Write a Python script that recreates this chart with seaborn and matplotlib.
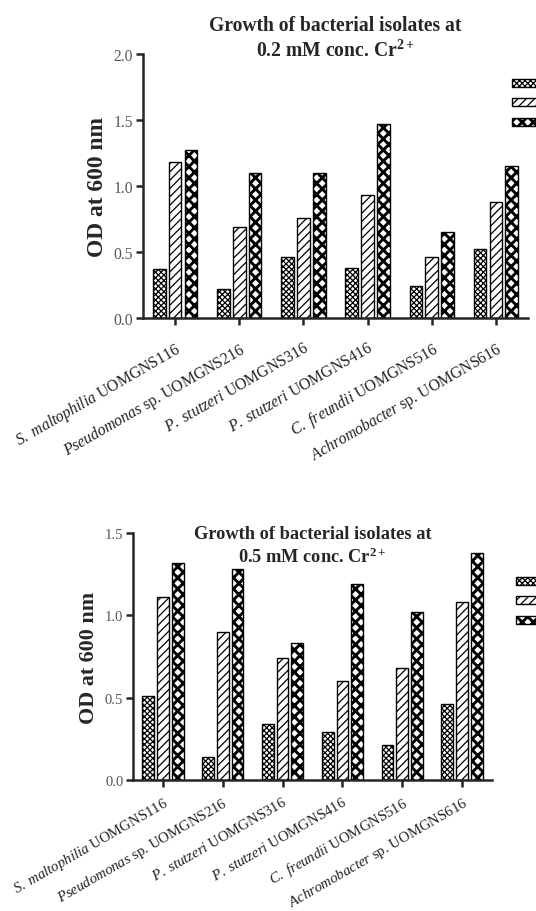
import pandas as pd
import matplotlib.pyplot as plt
import matplotlib.patches as mpatches
import seaborn as sns

# isolates (x categories)
isolates = [
    r"$\mathit{S.\ maltophilia}$ UOMGNS116",
    r"$\mathit{Pseudomonas}$ sp. UOMGNS216",
    r"$\mathit{P.\ stutzeri}$ UOMGNS316",
    r"$\mathit{P.\ stutzeri}$ UOMGNS416",
    r"$\mathit{C.\ freundii}$ UOMGNS516",
    r"$\mathit{Achromobacter}$ sp. UOMGNS616",
]
times = ["24 h", "48 h", "72 h"]

# OD at 600 nm, 0.2 mM Cr2+
od_02_24 = [0.37, 0.22, 0.46, 0.38, 0.24, 0.52]
od_02_48 = [1.18, 0.69, 0.76, 0.93, 0.46, 0.88]
od_02_72 = [1.27, 1.10, 1.10, 1.47, 0.65, 1.15]

# OD at 600 nm, 0.5 mM Cr2+
od_05_24 = [0.51, 0.14, 0.34, 0.29, 0.21, 0.46]
od_05_48 = [1.11, 0.90, 0.74, 0.60, 0.68, 1.08]
od_05_72 = [1.32, 1.28, 0.83, 1.19, 1.02, 1.38]

hatches = ["xxxxxx", "////", "xxx"]

sns.set_style("ticks")
plt.rcParams["font.family"] = "Liberation Serif"
plt.rcParams["mathtext.fontset"] = "custom"
plt.rcParams["mathtext.rm"] = "Liberation Serif"
plt.rcParams["mathtext.it"] = "Liberation Serif:italic"
plt.rcParams["mathtext.bf"] = "Liberation Serif:bold"
plt.rcParams["hatch.linewidth"] = 0.9


def make_df(a, b, c):
    rows = []
    for t, vals in zip(times, [a, b, c]):
        for iso, v in zip(isolates, vals):
            rows.append({"isolate": iso, "time": t, "od": v})
    return pd.DataFrame(rows)


def set_hatch(p, h):
    p.set_hatch(h)
    if h == "xxx" and hasattr(p, "set_hatch_linewidth"):
        p.set_hatch_linewidth(2.1)


def draw(ax, df, ymax, title, title_y, legend_xy, scale, xpad):
    sns.barplot(data=df, x="isolate", y="od", hue="time", palette=["white"] * 3,
                edgecolor="black", linewidth=1.0, width=0.74, gap=0.2,
                legend=False, ax=ax)
    for cont, h in zip(ax.containers, hatches):
        for p in cont:
            set_hatch(p, h)
    ax.set_ylim(0, ymax)
    ax.set_xlim(-0.5, 5.5)
    ax.set_yticks([i * 0.5 for i in range(int(ymax / 0.5) + 1)])
    ax.set_xlabel("")
    ax.set_ylabel("OD at 600 nm", fontsize=15.8 * scale, fontweight="bold", labelpad=4)
    ax.tick_params(axis="both", width=1.8, length=5, direction="out")
    ax.tick_params(axis="y", labelsize=10.5 * scale, labelcolor="#555555", pad=2)
    ax.tick_params(axis="x", pad=xpad)
    ax.set_xticks(range(len(isolates)))
    ax.set_xticklabels(isolates, rotation=30, ha="right", va="top",
                       rotation_mode="anchor", fontsize=10.6 * scale, color="#222222")
    for s in ["left", "bottom"]:
        ax.spines[s].set_linewidth(1.8)
    sns.despine(ax=ax)
    ax.text(0.5, title_y, title, transform=ax.transAxes, ha="center", va="bottom",
            fontsize=13.2 * scale, fontweight="bold", linespacing=1.3)
    handles = [mpatches.Patch(facecolor="white", edgecolor="black", label=" ")
               for h in hatches]
    leg = ax.figure.legend(handles=handles, loc="upper left", bbox_to_anchor=legend_xy,
                           frameon=False, fontsize=9, handlelength=3, handleheight=0.6,
                           labelspacing=0.6, borderaxespad=0, borderpad=0)
    for p, h in zip(leg.get_patches(), hatches):
        set_hatch(p, h)


fig = plt.figure(figsize=(5.36, 9.12), dpi=100)
ax1 = fig.add_axes([0.2668, 0.6502, 0.7183, 0.2895])
ax2 = fig.add_axes([0.2481, 0.1436, 0.6698, 0.2708])

draw(ax1, make_df(od_02_24, od_02_48, od_02_72), 2.0,
     "Growth of bacterial isolates at\n0.2 mM conc. Cr$^{\\mathbf{2+}}$", 0.975,
     (512 / 536, 1 - 79 / 912), 1.07, 10)
draw(ax2, make_df(od_05_24, od_05_48, od_05_72), 1.5,
     "Growth of bacterial isolates at\n0.5 mM conc. Cr$^{\\mathbf{2+}}$", 0.868,
     (516 / 536, 1 - 577 / 912), 1.0, 5)

plt.savefig("out.png", dpi=100)
